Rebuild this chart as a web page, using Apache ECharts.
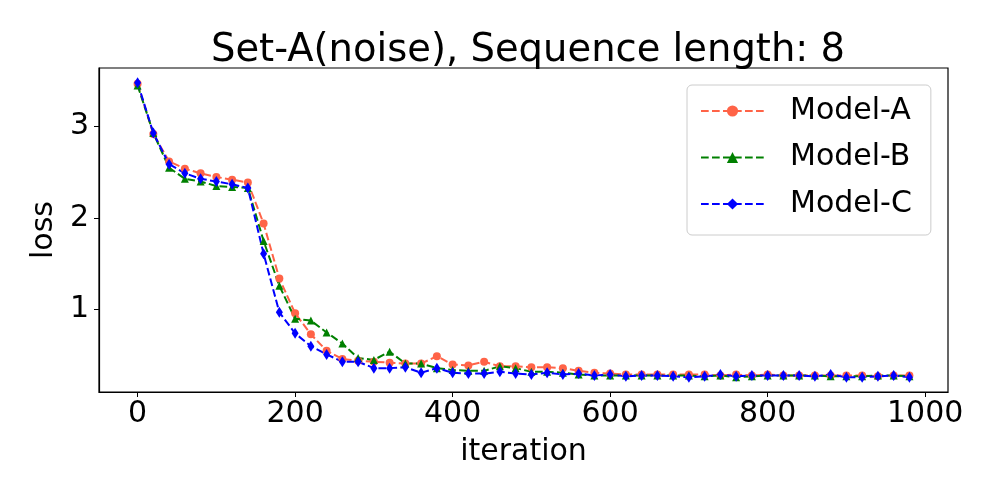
<!DOCTYPE html>
<html>
<head>
<meta charset="utf-8">
<script src="https://cdn.jsdelivr.net/npm/echarts@6/dist/echarts.min.js"></script>
<style>
  html, body { margin: 0; padding: 0; background: #fff; }
  #main { width: 1000px; height: 500px; }
</style>
</head>
<body>
<div id="main"></div>
<script>
// 数据
var iterations = [];
for (var k = 0; k < 50; k++) iterations.push(k * 20);

var modelA = [3.47, 2.92, 2.62, 2.54, 2.49, 2.45, 2.42, 2.39, 1.94, 1.34,
              0.96, 0.73, 0.55, 0.46, 0.44, 0.43, 0.42, 0.41, 0.41, 0.49,
              0.40, 0.39, 0.43, 0.38, 0.38, 0.37, 0.37, 0.36, 0.33, 0.31,
              0.30, 0.29, 0.29, 0.29, 0.29, 0.29, 0.29, 0.28, 0.29, 0.28,
              0.29, 0.28, 0.28, 0.28, 0.28, 0.28, 0.28, 0.27, 0.28, 0.28];
var modelB = [3.45, 2.93, 2.55, 2.43, 2.40, 2.35, 2.34, 2.33, 1.75, 1.26,
              0.90, 0.88, 0.75, 0.63, 0.47, 0.45, 0.54, 0.41, 0.41, 0.36,
              0.34, 0.33, 0.33, 0.38, 0.36, 0.32, 0.32, 0.31, 0.29, 0.28,
              0.28, 0.28, 0.28, 0.28, 0.28, 0.28, 0.27, 0.28, 0.26, 0.27,
              0.28, 0.28, 0.28, 0.28, 0.27, 0.27, 0.27, 0.28, 0.28, 0.27];
var modelC = [3.48, 2.93, 2.59, 2.49, 2.43, 2.40, 2.37, 2.33, 1.61, 0.97,
              0.74, 0.60, 0.51, 0.43, 0.43, 0.36, 0.36, 0.37, 0.31, 0.36,
              0.31, 0.30, 0.30, 0.32, 0.30, 0.29, 0.31, 0.29, 0.30, 0.28,
              0.29, 0.27, 0.28, 0.28, 0.27, 0.26, 0.27, 0.29, 0.27, 0.28,
              0.28, 0.28, 0.28, 0.27, 0.29, 0.26, 0.26, 0.27, 0.28, 0.26];
var xTicks = [0, 200, 400, 600, 800, 1000];
var yTicks = [1, 2, 3];
var seriesNames = ['Model-A', 'Model-B', 'Model-C'];

function pairs(vals) {
    return vals.map(function (v, i) { return [iterations[i], v]; });
}

// matplotlib 默认 5% 边距
var allVals = modelA.concat(modelB, modelC);
var yMin = Math.min.apply(null, allVals), yMax = Math.max.apply(null, allVals);
var yPad = (yMax - yMin) * 0.05;
var xPad = (iterations[iterations.length - 1] - iterations[0]) * 0.05;

var FONT = 'DejaVu Sans';
var dash = [7.7, 3.3];
function plain(v) { return String(v); }

var chart = echarts.init(document.getElementById('main'));
var option = {
    animation: false,
    backgroundColor: '#fff',
    textStyle: { fontFamily: FONT },
    title: {
        text: 'Set-A(noise), Sequence length: 8',
        left: 523, top: 26, textAlign: 'center',
        textStyle: { fontFamily: FONT, fontSize: 38.5, fontWeight: 'normal', color: '#000' }
    },
    legend: {
        orient: 'vertical',
        left: 687, top: 85,
        padding: [11, 19, 16, 13],
        itemWidth: 63, itemHeight: 14, itemGap: 16.5,
        backgroundColor: '#fff',
        borderColor: '#cccccc', borderWidth: 1, borderRadius: 5,
        textStyle: { fontFamily: FONT, fontSize: 30, color: '#000', lineHeight: 30, padding: [0, 0, 0, 21] },
        data: seriesNames
    },
    grid: {
        left: 99, right: 52, top: 68, bottom: 108,
        show: true, borderColor: '#000', borderWidth: 1.2
    },
    xAxis: {
        type: 'value',
        min: iterations[0] - xPad, max: iterations[iterations.length - 1] + xPad,
        name: 'iteration', nameLocation: 'middle', nameGap: 45,
        nameTextStyle: { fontFamily: FONT, fontSize: 30, color: '#000' },
        axisLine: { show: true, onZero: false, lineStyle: { color: '#000', width: 1.2 } },
        axisTick: { show: true, length: 5, customValues: xTicks, lineStyle: { color: '#000' } },
        axisLabel: { customValues: xTicks, formatter: plain, margin: 7, fontFamily: FONT, fontSize: 30, color: '#000' },
        splitLine: { show: false }
    },
    yAxis: {
        type: 'value',
        min: yMin - yPad, max: yMax + yPad,
        name: 'loss', nameLocation: 'middle', nameGap: 35, nameRotate: 90,
        nameTextStyle: { fontFamily: FONT, fontSize: 30, color: '#000' },
        axisLine: { show: true, onZero: false, lineStyle: { color: '#000', width: 1.2 } },
        axisTick: { show: true, length: 5, customValues: yTicks, lineStyle: { color: '#000' } },
        axisLabel: { customValues: yTicks, formatter: plain, margin: 10, fontFamily: FONT, fontSize: 30, color: '#000' },
        splitLine: { show: false }
    },
    series: [
        {
            name: 'Model-A', type: 'line', data: pairs(modelA),
            symbol: 'circle', symbolSize: 8, showAllSymbol: true,
            itemStyle: { color: '#ff6347' },
            lineStyle: { color: '#ff6347', width: 2, type: dash }
        },
        {
            name: 'Model-B', type: 'line', data: pairs(modelB),
            symbol: 'triangle', symbolSize: 8, showAllSymbol: true,
            itemStyle: { color: '#008000' },
            lineStyle: { color: '#008000', width: 2, type: dash }
        },
        {
            name: 'Model-C', type: 'line', data: pairs(modelC),
            symbol: 'diamond', symbolSize: [7, 11], showAllSymbol: true,
            itemStyle: { color: '#0000ff' },
            lineStyle: { color: '#0000ff', width: 2, type: dash }
        }
    ]
};
chart.setOption(option, true);
window.addEventListener('resize', function () { chart.resize(); });
</script>
</body>
</html>
